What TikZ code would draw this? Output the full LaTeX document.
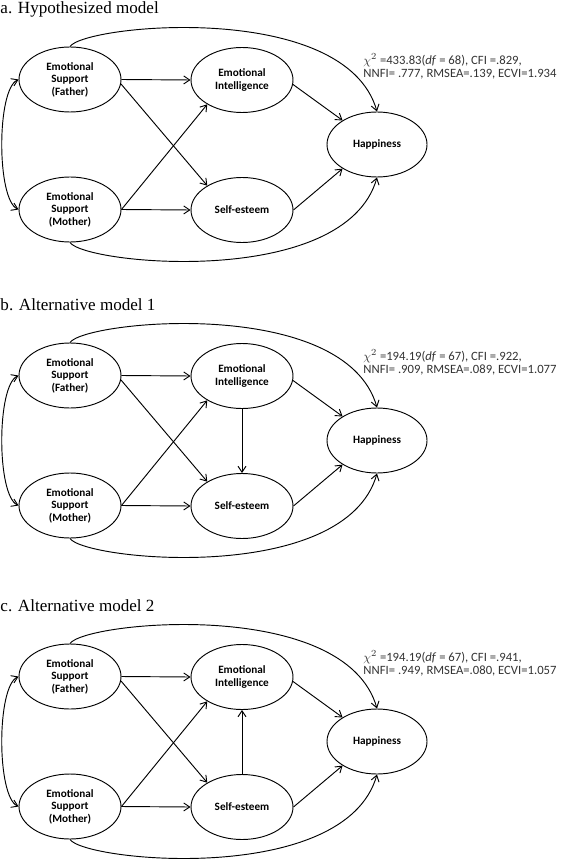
\documentclass[tikz,border=0pt]{standalone}
\usepackage{fontspec}
\setmainfont{Liberation Serif}
\newfontfamily\boxfont{Carlito}
\usetikzlibrary{shapes.geometric,arrows.meta}
\tikzset{
  latent/.style={ellipse,draw,inner sep=0pt,minimum width=76.5pt,minimum height=48.75pt,
    align=center,font=\boxfont\bfseries\fontsize{8.4}{9.4}\selectfont},
  fitstats/.style={anchor=west,align=left,inner sep=0pt,text=black!80,
    font=\boxfont\fontsize{9.5}{9.75}\selectfont},
  paneltitle/.style={anchor=base west,inner sep=0pt,font=\fontsize{12.8}{15}\selectfont}
}
\newcommand{\SEMpanel}[4]{%
\begin{scope}[shift={(0,#2)}]
\node[paneltitle](#1T) at (0,14) {#3};
\node[latent](#1F) at (70,79.5) {Emotional\\Support\\(Father)};
\node[latent](#1M) at (70,209.5) {Emotional\\Support\\(Mother)};
\node[latent](#1E) at (242,80) {Emotional\\Intelligence};
\node[latent](#1S) at (242,210) {Self-esteem};
\node[latent,minimum width=75pt](#1H) at (377,144.5) {Happiness};
\node[fitstats](#1X) at (363,66.5) {#4};
\draw[->](#1F.east)--(#1E.west);
\draw[->](#1F.-5)--(#1S.145);
\draw[->](#1M.east)--(#1E.215);
\draw[->](#1M.east)--(#1S.west);
\draw[->](#1E.-5)--(#1H.145);
\draw[->](#1S.east)--(#1H.215);
\draw[->](#1F.north) .. controls +(15,-22) and +(-32,-112) .. (#1H.north);
\draw[->](#1M.south) .. controls +(15,22) and +(-32,112) .. (#1H.south);
\draw[<->](#1F.west) .. controls +(-22,10) and +(-22,-10) .. (#1M.west);
\end{scope}}

\begin{document}
\begin{tikzpicture}[x=0.75pt,y=-0.75pt,line width=0.7pt,>={Straight Barb[length=4.5pt,width=6pt]}]
\useasboundingbox (0,0) rectangle (563,859);
\SEMpanel{a}{0}{a. Hypothesized model}{$\chi^{2}$ =433.83(\textit{df} = 68), CFI =.829,\\NNFI= .777, RMSEA=.139, ECVI=1.934}
\SEMpanel{b}{296}{b. Alternative model 1}{$\chi^{2}$ =194.19(\textit{df} = 67), CFI =.922,\\NNFI= .909, RMSEA=.089, ECVI=1.077}
\draw[->](bE)--(bS);
\SEMpanel{c}{597}{c. Alternative model 2}{$\chi^{2}$ =194.19(\textit{df} = 67), CFI =.941,\\NNFI= .949, RMSEA=.080, ECVI=1.057}
\draw[->](cS)--(cE);
\end{tikzpicture}
\end{document}
